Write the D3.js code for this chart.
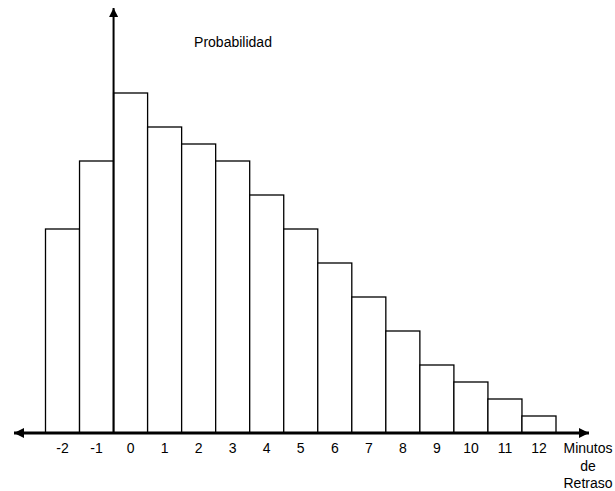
<!DOCTYPE html>
<html>
<head>
<meta charset="utf-8">
<script src="https://cdn.jsdelivr.net/npm/d3@7/dist/d3.min.js"></script>
<style>
  body { margin: 0; background: #fff; }
  svg { display: block; font-family: Arial, "Liberation Sans", sans-serif; }
</style>
</head>
<body>
<svg id="chart" width="615" height="491"></svg>
<script>
// minutes of delay and relative probability (heights)
const minutes = [-2, -1, 0, 1, 2, 3, 4, 5, 6, 7, 8, 9, 10, 11, 12];
const prob = [12, 16, 20, 18, 17, 16, 14, 12, 10, 8, 6, 4, 3, 2, 1];
const yLabel = "Probabilidad";
const xLabel = ["Minutos", "de", "Retraso"];

const svg = d3.select("#chart");
const base = 433;

const x = d3.scaleBand().domain(minutes).range([45.5, 556]).padding(0);
const y = d3.scaleLinear().domain([0, 20]).range([base, 93]);

// bars
svg.append("g").selectAll("rect")
  .data(minutes.map((m, i) => ({ m, p: prob[i] })))
  .join("rect")
  .attr("x", d => x(d.m))
  .attr("y", d => y(d.p))
  .attr("width", x.bandwidth())
  .attr("height", d => base - y(d.p))
  .attr("fill", "#fff")
  .attr("stroke", "#000")
  .attr("stroke-width", 1.3);

// arrowheads
const defs = svg.append("defs");
defs.append("marker")
  .attr("id", "arr")
  .attr("viewBox", "0 0 10 10")
  .attr("refX", 10).attr("refY", 5)
  .attr("markerUnits", "userSpaceOnUse")
  .attr("markerWidth", 17).attr("markerHeight", 10)
  .attr("orient", "auto-start-reverse")
  .append("path").attr("d", "M0,0L10,5L0,10Z").attr("fill", "#000");
defs.append("marker")
  .attr("id", "arrv")
  .attr("viewBox", "0 0 10 10")
  .attr("refX", 10).attr("refY", 5)
  .attr("markerUnits", "userSpaceOnUse")
  .attr("markerWidth", 14).attr("markerHeight", 9)
  .attr("orient", "auto")
  .append("path").attr("d", "M0,0L10,5L0,10Z").attr("fill", "#000");

// x axis line (double arrow)
svg.append("line")
  .attr("x1", 14).attr("x2", 589)
  .attr("y1", base).attr("y2", base)
  .attr("stroke", "#000").attr("stroke-width", 3)
  .attr("marker-start", "url(#arr)")
  .attr("marker-end", "url(#arr)");

// y axis line
const x0 = x(0);
svg.append("line")
  .attr("x1", x0).attr("x2", x0)
  .attr("y1", base).attr("y2", 8)
  .attr("stroke", "#000").attr("stroke-width", 2)
  .attr("marker-end", "url(#arrv)");

// tick labels
svg.append("g").selectAll("text")
  .data(minutes)
  .join("text")
  .attr("x", d => x(d) + x.bandwidth() / 2)
  .attr("y", 453)
  .attr("text-anchor", "middle")
  .attr("font-size", 14)
  .text(d => d);

svg.append("text")
  .attr("x", 233).attr("y", 47)
  .attr("text-anchor", "middle")
  .attr("font-size", 14)
  .text(yLabel);

svg.append("g").selectAll("text")
  .data(xLabel)
  .join("text")
  .attr("x", 588)
  .attr("y", (d, i) => 453 + i * 17.5)
  .attr("text-anchor", "middle")
  .attr("font-size", 14)
  .text(d => d);
</script>
</body>
</html>
